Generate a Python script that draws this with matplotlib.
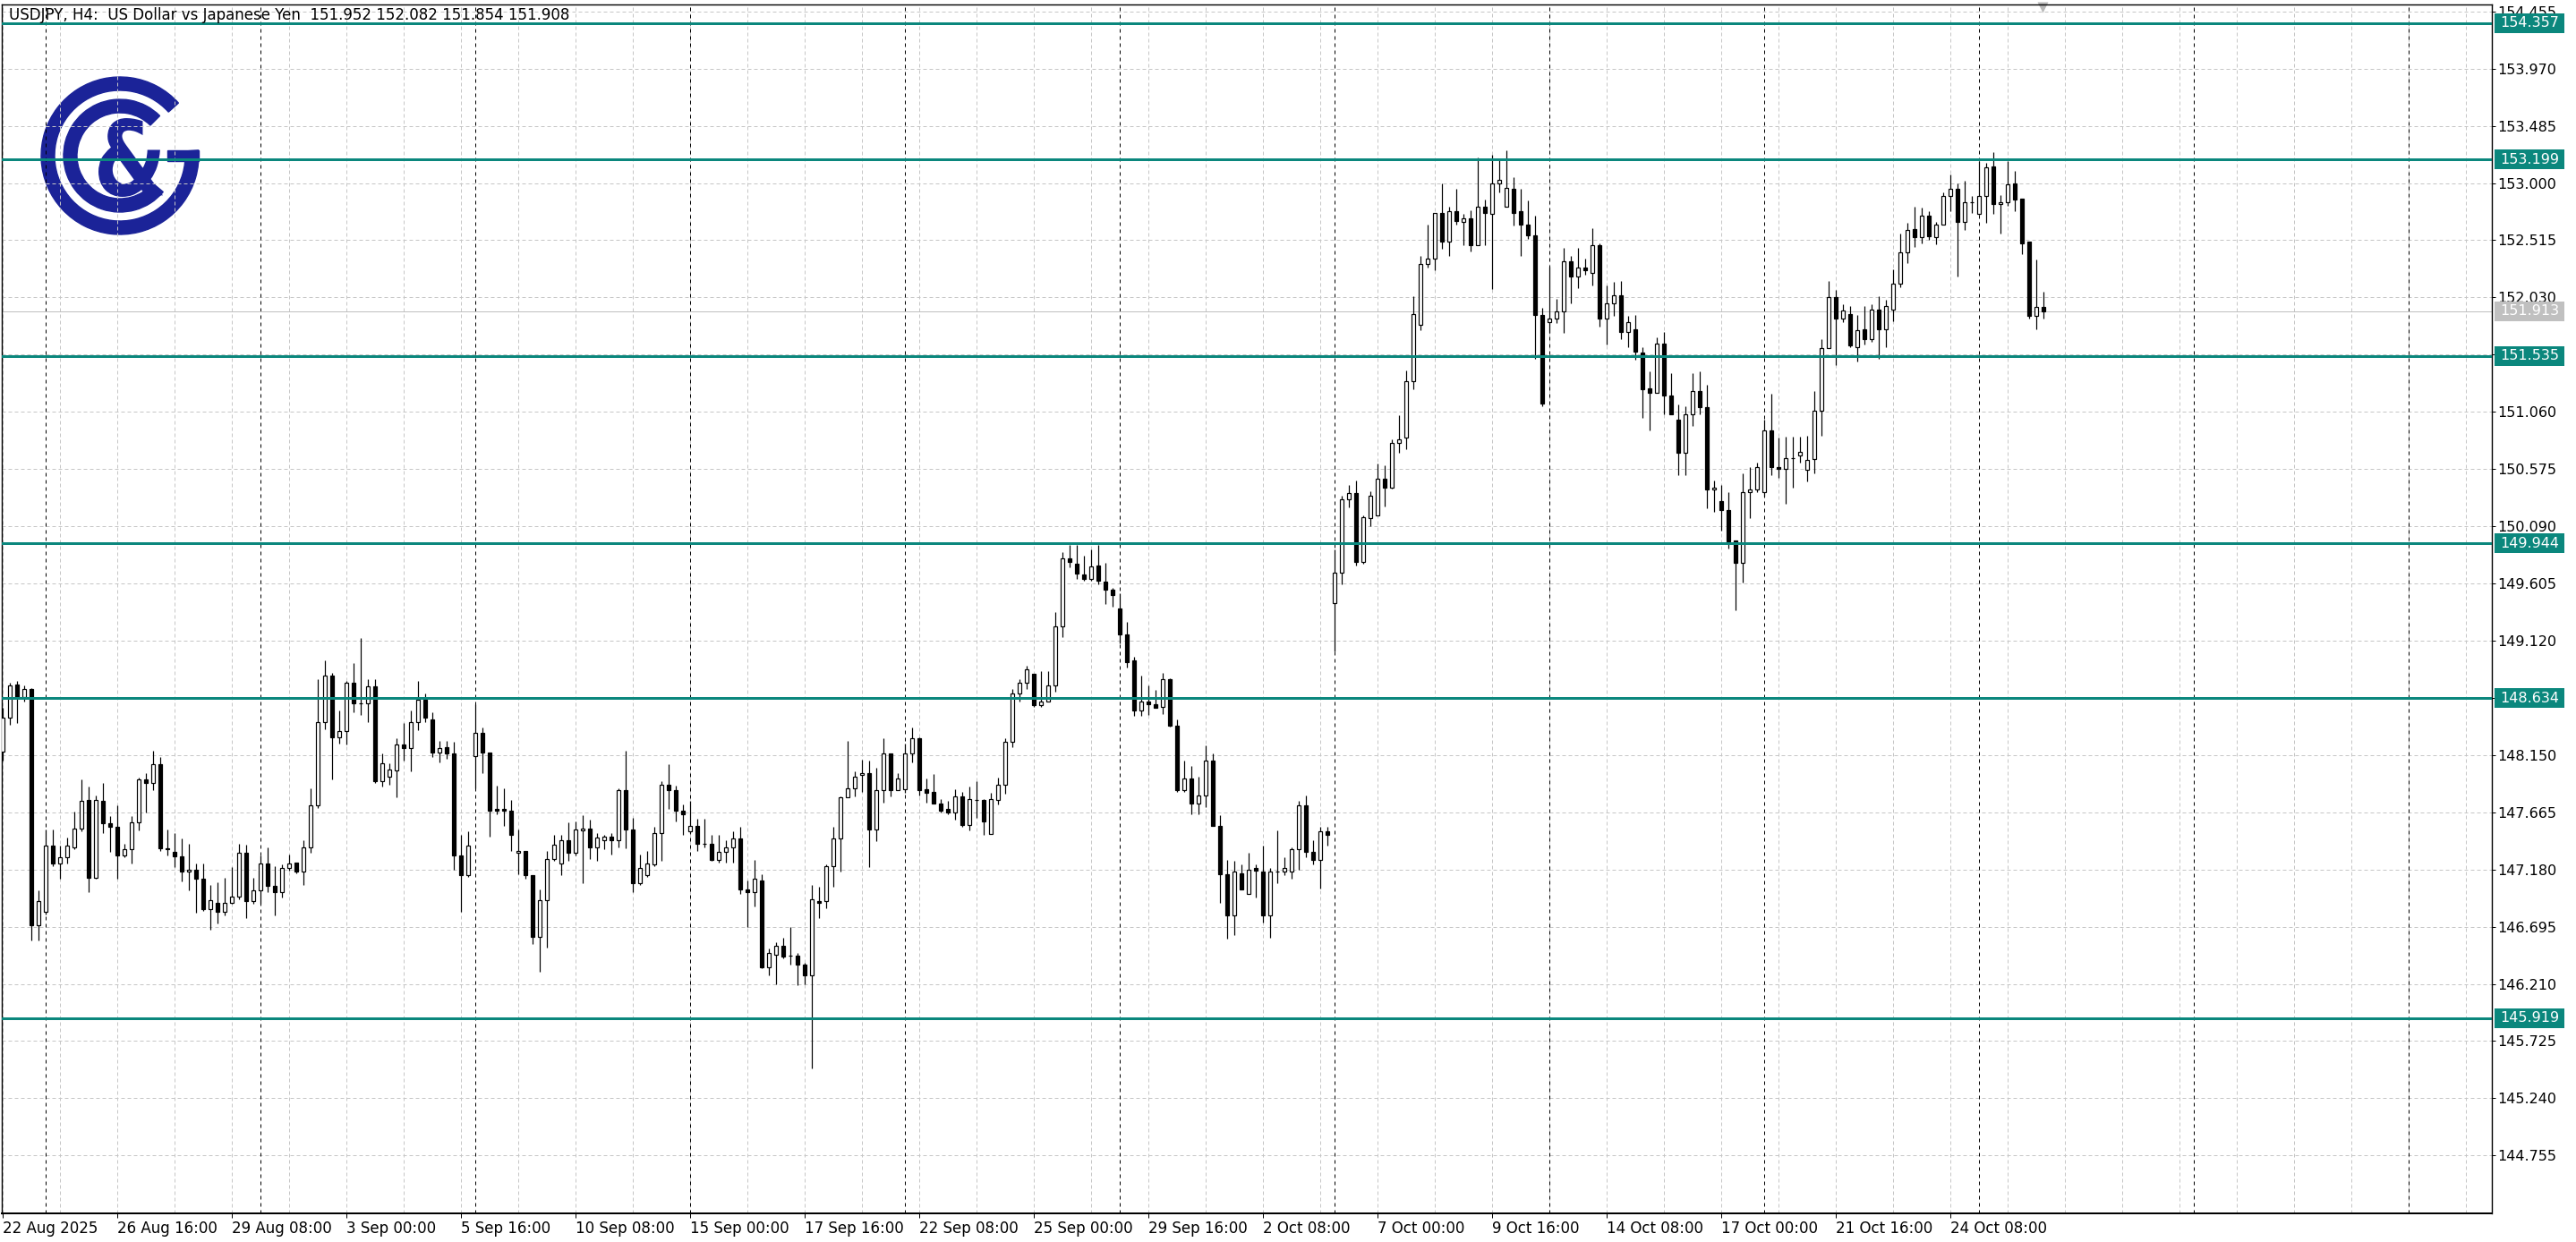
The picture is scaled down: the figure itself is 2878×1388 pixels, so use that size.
#! /usr/bin/env python
#   USDJPY H4 candlestick chart with horizontal levels
#

import numpy as np
import matplotlib
matplotlib.use('Agg')
import matplotlib.pyplot as plt
from matplotlib.patches import Wedge, Rectangle, PathPatch
from matplotlib.textpath import TextPath
from matplotlib.font_manager import FontProperties
from matplotlib.transforms import Affine2D, blended_transform_factory


#----------------------------------------------------
# Data (H4 bars, 22 Aug 2025 00:00 onward)
#----------------------------------------------------
opens = [
    148.18, 148.47, 148.75, 148.64, 148.71, 146.71, 146.82, 147.38, 147.23, 147.28,
    147.37, 147.53, 147.77, 147.11, 147.76, 147.57, 147.54, 147.30, 147.35, 147.58,
    147.94, 147.91, 148.07, 147.36, 147.33, 147.29, 147.16, 147.18, 147.10, 146.84,
    146.90, 146.82, 146.90, 146.95, 147.32, 146.91, 147.00, 147.23, 147.04, 146.99,
    147.19, 147.24, 147.16, 147.37, 147.72, 148.43, 148.82, 148.30, 148.35, 148.76,
    148.59, 148.59, 148.73, 147.93, 147.97, 148.02, 148.24, 148.21, 148.43, 148.62,
    148.45, 148.17, 148.22, 148.16, 147.30, 147.13, 148.14, 148.34, 148.17, 147.69,
    147.69, 147.68, 147.32, 147.34, 147.13, 146.61, 146.92, 147.27, 147.23, 147.43,
    147.32, 147.51, 147.53, 147.37, 147.43, 147.46, 147.43, 147.85, 147.52, 147.06,
    147.13, 147.22, 147.49, 147.90, 147.85, 147.68, 147.50, 147.55, 147.40, 147.40,
    147.26, 147.33, 147.37, 147.44, 147.01, 146.99, 147.09, 146.35, 146.46, 146.53,
    146.45, 146.45, 146.37, 146.28, 146.91, 146.91, 147.21, 147.44, 147.79, 147.87,
    147.98, 148.00, 147.52, 147.85, 148.16, 147.85, 147.86, 148.16, 148.29, 147.86,
    147.84, 147.74, 147.69, 147.66, 147.80, 147.56, 147.77, 147.77, 147.48, 147.77,
    147.90, 148.26, 148.67, 148.76, 148.84, 148.57, 148.60, 148.74, 149.24, 149.82,
    149.77, 149.68, 149.64, 149.76, 149.62, 149.55, 149.39, 149.17, 148.95, 148.53,
    148.60, 148.58, 148.56, 148.79, 148.40, 147.85, 147.95, 147.74, 147.81, 148.10,
    147.55, 147.14, 146.79, 147.15, 146.97, 147.19, 147.16, 146.79, 147.16, 147.16,
    147.16, 147.35, 147.72, 147.33, 147.26, 147.50, 149.44, 149.70, 150.32, 150.37,
    149.79, 150.16, 150.18, 150.49, 150.42, 150.80, 150.84, 151.32, 151.80, 152.31,
    152.36, 152.75, 152.50, 152.76, 152.67, 152.70, 152.47, 152.80, 152.74, 153.00,
    152.80, 152.95, 152.76, 152.65, 152.56, 151.88, 151.82, 151.85, 151.91, 152.34,
    152.21, 152.28, 152.24, 152.47, 151.85, 151.98, 152.05, 151.74, 151.76, 151.56,
    151.26, 151.22, 151.64, 151.20, 150.99, 150.71, 151.04, 151.24, 151.10, 150.40,
    150.30, 150.23, 149.97, 149.78, 150.38, 150.40, 150.38, 150.90, 150.59, 150.58,
    150.67, 150.69, 150.57, 150.66, 151.07, 151.60, 152.03, 151.85, 151.89, 151.61,
    151.76, 151.68, 151.93, 151.76, 151.93, 152.15, 152.41, 152.61, 152.54, 152.72,
    152.54, 152.65, 152.89, 152.95, 152.67, 152.84, 152.74, 152.89, 153.14, 152.82,
    152.84, 153.00, 152.87, 152.50, 151.87, 151.952,
]
highs = [
    148.55, 148.76, 148.78, 148.74, 148.72, 147.00, 147.52, 147.52, 147.38, 147.45,
    147.67, 147.94, 147.88, 147.81, 147.91, 147.63, 147.72, 147.40, 147.63, 147.96,
    148.00, 148.19, 148.13, 147.52, 147.49, 147.44, 147.40, 147.23, 147.23, 147.05,
    147.07, 147.11, 147.20, 147.40, 147.39, 147.11, 147.30, 147.37, 147.21, 147.22,
    147.31, 147.24, 147.43, 147.87, 148.79, 148.95, 148.85, 148.53, 148.78, 148.93,
    149.14, 148.79, 148.79, 148.16, 148.08, 148.29, 148.42, 148.53, 148.78, 148.67,
    148.51, 148.27, 148.27, 148.26, 147.47, 147.50, 148.58, 148.38, 148.17, 147.89,
    147.87, 147.77, 147.52, 147.34, 147.13, 147.01, 147.34, 147.47, 147.47, 147.58,
    147.59, 147.64, 147.60, 147.49, 147.47, 147.49, 147.87, 148.19, 147.62, 147.31,
    147.34, 147.54, 147.93, 148.07, 147.89, 147.73, 147.76, 147.61, 147.61, 147.47,
    147.47, 147.43, 147.50, 147.54, 147.09, 147.26, 147.14, 146.51, 146.56, 146.60,
    146.69, 146.47, 146.39, 147.05, 147.03, 147.22, 147.54, 147.80, 148.27, 148.01,
    148.11, 148.10, 148.04, 148.29, 148.16, 148.00, 148.25, 148.38, 148.30, 147.95,
    147.99, 147.78, 147.76, 147.86, 147.84, 147.88, 147.93, 147.78, 147.83, 147.96,
    148.29, 148.71, 148.79, 148.91, 148.84, 148.86, 148.86, 149.36, 149.87, 149.93,
    149.93, 149.84, 149.89, 149.93, 149.78, 149.57, 149.52, 149.28, 148.98, 148.82,
    148.74, 148.70, 148.85, 148.80, 148.45, 148.10, 148.06, 147.97, 148.23, 148.16,
    147.64, 147.26, 147.25, 147.22, 147.32, 147.22, 147.38, 147.19, 147.51, 147.28,
    147.37, 147.76, 147.81, 147.43, 147.54, 147.54, 149.89, 150.35, 150.44, 150.48,
    150.18, 150.39, 150.62, 150.61, 150.83, 151.03, 151.41, 152.04, 152.38, 152.65,
    152.75, 153.00, 152.80, 152.95, 152.74, 152.77, 153.22, 152.86, 153.24, 153.20,
    153.28, 153.05, 152.95, 152.85, 152.72, 151.94, 152.29, 152.02, 152.45, 152.38,
    152.45, 152.36, 152.62, 152.49, 152.13, 152.16, 152.17, 151.87, 151.88, 151.61,
    151.40, 151.69, 151.74, 151.39, 151.12, 151.11, 151.39, 151.40, 151.29, 150.48,
    150.44, 150.38, 149.97, 150.54, 150.59, 150.63, 150.99, 151.21, 150.84, 150.85,
    150.85, 150.85, 150.86, 151.24, 151.68, 152.17, 152.09, 151.97, 151.96, 151.88,
    151.96, 151.97, 152.04, 152.01, 152.27, 152.57, 152.66, 152.80, 152.79, 152.76,
    152.67, 152.92, 153.07, 153.00, 153.02, 152.89, 153.19, 153.17, 153.26, 152.90,
    153.19, 153.10, 152.87, 152.50, 152.35, 152.082,
]
lows = [
    148.10, 148.41, 148.42, 148.60, 146.58, 146.58, 146.80, 147.21, 147.10, 147.23,
    147.35, 147.50, 146.99, 147.10, 147.49, 147.33, 147.10, 147.28, 147.23, 147.51,
    147.66, 147.85, 147.34, 147.30, 147.20, 147.08, 147.00, 146.81, 146.83, 146.67,
    146.72, 146.79, 146.89, 146.93, 146.77, 146.89, 146.89, 146.99, 146.79, 146.94,
    147.17, 147.15, 147.05, 147.32, 147.70, 148.37, 147.94, 148.25, 148.24, 148.51,
    148.49, 148.43, 147.91, 147.88, 147.90, 147.79, 148.10, 148.01, 148.36, 148.43,
    148.13, 148.09, 148.12, 147.18, 146.82, 147.12, 147.87, 148.00, 147.46, 147.65,
    147.55, 147.34, 147.14, 147.10, 146.55, 146.31, 146.52, 147.25, 147.13, 147.25,
    147.30, 147.06, 147.27, 147.25, 147.35, 147.31, 147.37, 147.36, 146.99, 147.05,
    147.12, 147.21, 147.25, 147.69, 147.59, 147.47, 147.49, 147.34, 147.37, 147.25,
    147.24, 147.24, 147.24, 146.97, 146.69, 146.87, 146.34, 146.28, 146.21, 146.43,
    146.37, 146.20, 146.21, 145.49, 146.77, 146.85, 147.03, 147.16, 147.79, 147.80,
    147.84, 147.20, 147.42, 147.75, 147.80, 147.85, 147.83, 148.09, 147.81, 147.75,
    147.74, 147.66, 147.65, 147.60, 147.54, 147.51, 147.62, 147.47, 147.48, 147.73,
    147.82, 148.22, 148.60, 148.71, 148.56, 148.56, 148.60, 148.69, 149.15, 149.74,
    149.64, 149.63, 149.63, 149.60, 149.43, 149.41, 149.10, 148.89, 148.48, 148.48,
    148.49, 148.55, 148.50, 148.39, 147.84, 147.84, 147.65, 147.65, 147.71, 147.55,
    146.90, 146.59, 146.62, 147.01, 146.97, 146.94, 146.73, 146.60, 147.06, 147.13,
    147.10, 147.18, 147.28, 147.22, 147.02, 147.38, 149.03, 149.60, 150.25, 149.76,
    149.77, 150.09, 150.18, 150.26, 150.41, 150.71, 150.74, 151.25, 151.75, 152.28,
    152.26, 152.44, 152.38, 152.65, 152.47, 152.42, 152.47, 152.47, 152.10, 152.92,
    152.80, 152.64, 152.38, 152.53, 151.51, 151.11, 151.73, 151.81, 151.73, 151.98,
    152.11, 152.22, 152.13, 151.78, 151.63, 151.87, 151.68, 151.61, 151.50, 151.01,
    150.90, 151.22, 151.04, 151.04, 150.52, 150.52, 150.94, 151.04, 150.24, 150.21,
    150.05, 149.90, 149.38, 149.61, 150.16, 150.38, 150.34, 150.52, 150.50, 150.28,
    150.42, 150.63, 150.47, 150.54, 150.86, 151.60, 151.46, 151.82, 151.61, 151.49,
    151.63, 151.65, 151.51, 151.61, 151.83, 152.12, 152.32, 152.46, 152.49, 152.52,
    152.48, 152.65, 152.76, 152.21, 152.60, 152.75, 152.73, 152.66, 152.74, 152.57,
    152.81, 152.76, 152.40, 151.85, 151.76, 151.854,
]
closes = [
    148.47, 148.74, 148.64, 148.71, 146.71, 146.91, 147.38, 147.23, 147.28, 147.38,
    147.53, 147.76, 147.11, 147.77, 147.57, 147.54, 147.30, 147.35, 147.58, 147.94,
    147.91, 148.07, 147.36, 147.35, 147.29, 147.16, 147.18, 147.10, 146.84, 146.92,
    146.82, 146.90, 146.95, 147.32, 146.91, 147.00, 147.23, 147.04, 146.99, 147.19,
    147.23, 147.16, 147.37, 147.72, 148.43, 148.82, 148.30, 148.35, 148.76, 148.59,
    148.59, 148.73, 147.93, 148.08, 148.03, 148.24, 148.21, 148.43, 148.62, 148.47,
    148.17, 148.21, 148.16, 147.30, 147.13, 147.38, 148.34, 148.17, 147.68, 147.68,
    147.68, 147.47, 147.34, 147.13, 146.61, 146.92, 147.27, 147.39, 147.43, 147.32,
    147.52, 147.53, 147.37, 147.45, 147.46, 147.43, 147.85, 147.52, 147.06, 147.19,
    147.23, 147.49, 147.90, 147.85, 147.68, 147.65, 147.55, 147.40, 147.40, 147.26,
    147.33, 147.37, 147.44, 147.01, 146.99, 147.10, 146.35, 146.47, 146.53, 146.44,
    146.45, 146.37, 146.28, 146.93, 146.90, 147.21, 147.44, 147.79, 147.87, 147.97,
    148.00, 147.52, 147.85, 148.16, 147.85, 147.95, 148.16, 148.29, 147.85, 147.83,
    147.74, 147.68, 147.66, 147.80, 147.56, 147.78, 147.77, 147.59, 147.78, 147.90,
    148.26, 148.67, 148.76, 148.88, 148.57, 148.60, 148.74, 149.24, 149.82, 149.79,
    149.69, 149.64, 149.75, 149.63, 149.55, 149.51, 149.17, 148.94, 148.53, 148.60,
    148.58, 148.55, 148.79, 148.40, 147.85, 147.95, 147.74, 147.81, 148.10, 147.55,
    147.14, 146.79, 147.16, 147.01, 147.18, 147.17, 146.79, 147.16, 147.16, 147.19,
    147.35, 147.72, 147.33, 147.26, 147.50, 147.47, 149.70, 150.32, 150.37, 149.79,
    150.17, 150.35, 150.49, 150.42, 150.80, 150.83, 151.32, 151.89, 152.31, 152.36,
    152.75, 152.50, 152.76, 152.68, 152.70, 152.47, 152.80, 152.75, 153.00, 153.03,
    152.96, 152.75, 152.65, 152.56, 151.88, 151.13, 151.85, 151.91, 152.34, 152.21,
    152.28, 152.26, 152.47, 151.85, 151.98, 152.05, 151.74, 151.82, 151.57, 151.25,
    151.22, 151.64, 151.20, 151.04, 150.71, 151.04, 151.24, 151.10, 150.40, 150.42,
    150.23, 149.96, 149.78, 150.38, 150.40, 150.59, 150.90, 150.59, 150.58, 150.67,
    150.67, 150.72, 150.65, 151.07, 151.60, 152.03, 151.85, 151.92, 151.62, 151.75,
    151.68, 151.93, 151.76, 151.96, 152.15, 152.41, 152.60, 152.54, 152.72, 152.55,
    152.65, 152.89, 152.95, 152.67, 152.84, 152.84, 152.89, 153.13, 152.82, 152.84,
    152.99, 152.86, 152.49, 151.87, 151.95, 151.908,
]

x_labels = ['22 Aug 2025', '26 Aug 16:00', '29 Aug 08:00', '3 Sep 00:00',
            '5 Sep 16:00', '10 Sep 08:00', '15 Sep 00:00', '17 Sep 16:00',
            '22 Sep 08:00', '25 Sep 00:00', '29 Sep 16:00', '2 Oct 08:00',
            '7 Oct 00:00', '9 Oct 16:00', '14 Oct 08:00', '17 Oct 00:00',
            '21 Oct 16:00', '24 Oct 08:00']
BARS_PER_LABEL = 16
BARS_PER_GRID = 8
BARS_PER_WEEK = 30
FIRST_WEEK_BAR = 6

y_ticks = [154.455, 153.970, 153.485, 153.000, 152.515, 152.030, 151.545,
           151.060, 150.575, 150.090, 149.605, 149.120, 148.635, 148.150,
           147.665, 147.180, 146.695, 146.210, 145.725, 145.240, 144.755]

levels = [154.357, 153.199, 151.535, 149.944, 148.634, 145.919]
last_price = 151.913

title = 'USDJPY, H4:  US Dollar vs Japanese Yen  151.952 152.082 151.854 151.908'


def main():

    W, H, DPI = 2878, 1388, 100
    PT = 72.0 / DPI          # points per pixel
    YFONT = 11.5
    XFONT = 12
    TFONT = 12
    TEAL = '#0b877d'
    GRID = '#c6c6c6'
    LOGO = '#1b2398'

    # plot frame in pixels
    L, R, T, B = 2, 2784, 5, 1356

    fig = plt.figure(figsize=(W / DPI, H / DPI), dpi=DPI)
    fig.patch.set_facecolor('white')

    # pixel overlay for the logo
    bg = fig.add_axes([0, 0, 1, 1], zorder=0)
    bg.set_xlim(0, W)
    bg.set_ylim(H, 0)
    bg.axis('off')

    ax = fig.add_axes([L / W, 1 - B / H, (R - L) / W, (B - T) / H], zorder=1)
    ax.patch.set_alpha(0)

    o = np.array(opens)
    h = np.array(highs)
    lo = np.array(lows)
    c = np.array(closes)
    idx = np.arange(len(o))
    up = c >= o

    nbars_view = (R - L) / 8.0
    ax.set_xlim(-0.125, -0.125 + nbars_view)
    ax.set_ylim(144.264, 154.514)

    # grid
    for gx in np.arange(0, nbars_view, BARS_PER_GRID):
        ax.axvline(gx, color=GRID, lw=1 * PT, ls=(0, (4, 3)), zorder=0.5)
    for sx in np.arange(FIRST_WEEK_BAR, nbars_view, BARS_PER_WEEK):
        ax.axvline(sx, color='black', lw=1 * PT, ls=(0, (4, 4)), zorder=0.6)
    for gy in y_ticks:
        ax.axhline(gy, color=GRID, lw=1 * PT, ls=(0, (4, 3)), zorder=0.5)

    # last price line
    ax.axhline(last_price, color='#c0c0c0', lw=1 * PT, zorder=0.7)

    # candles
    ax.vlines(idx, lo, h, color='black', lw=1.2 * PT, zorder=3)
    ax.bar(idx, np.abs(c - o), bottom=np.minimum(o, c), width=0.62,
           color=np.where(up, 'white', 'black'), edgecolor='black',
           linewidth=1.2 * PT, zorder=4)

    # levels
    for lv in levels:
        ax.axhline(lv, color=TEAL, lw=3 * PT, zorder=5)

    # axes
    for s in ax.spines.values():
        s.set_color('black')
        s.set_linewidth(1.4 * PT)
    ax.spines['bottom'].set_linewidth(2 * PT)
    ax.yaxis.tick_right()
    ax.set_yticks(y_ticks)
    ax.set_yticklabels(['%.3f' % v for v in y_ticks])
    ax.tick_params(axis='y', length=4 * PT, width=1 * PT, pad=2 * PT,
                   labelsize=YFONT, colors='black')
    ax.set_xticks(np.arange(len(x_labels)) * BARS_PER_LABEL)
    ax.set_xticklabels(x_labels, ha='left')
    ax.tick_params(axis='x', length=5 * PT, width=1 * PT, pad=3 * PT,
                   labelsize=XFONT, colors='black')

    # price boxes on the right scale
    tr = blended_transform_factory(ax.transAxes, ax.transData)
    axw = float(R - L)
    half = 11.0 / ((B - T) / (154.514 - 144.264))
    boxes = [(lv, TEAL) for lv in levels] + [(last_price, '#c0c0c0')]
    for lv, col in boxes:
        ax.add_patch(Rectangle((1 + 3 / axw, lv - half), 78 / axw, 2 * half,
                               transform=tr, facecolor=col, edgecolor='none',
                               clip_on=False, zorder=10))
        ax.text(1 + 42 / axw, lv, '%.3f' % lv, transform=tr, color='white',
                fontsize=YFONT, ha='center', va='center', clip_on=False,
                zorder=11)

    # title
    fig.text(10 / W, 1 - 17 / H, title, fontsize=TFONT, ha='left',
             va='center', color='black')

    # chart shift marker
    bg.plot([2282], [8], marker='v', ms=9, color='#b8b8b8', mec='none')

    # logo
    cx, cy = 134, 174
    bg.add_patch(Wedge((cx, cy), 88, -4, 318, width=15, color=LOGO))
    bg.add_patch(Wedge((cx, cy), 63, 40, 315, width=15, color=LOGO))
    bg.add_patch(Rectangle((187, 168), 35, 12, color=LOGO))
    tp = TextPath((0, 0), '&', size=100,
                  prop=FontProperties(family='DejaVu Sans', weight='bold'))
    ext = tp.get_extents()
    tf = (Affine2D().translate(-ext.x0, -ext.y0)
          .scale(72 / ext.width, -88 / ext.height).translate(110, 220))
    bg.add_patch(PathPatch(tf.transform_path(tp), color=LOGO, lw=0))

    fig.savefig('out.png', dpi=DPI, facecolor='white')


if __name__ == "__main__":
    main()
